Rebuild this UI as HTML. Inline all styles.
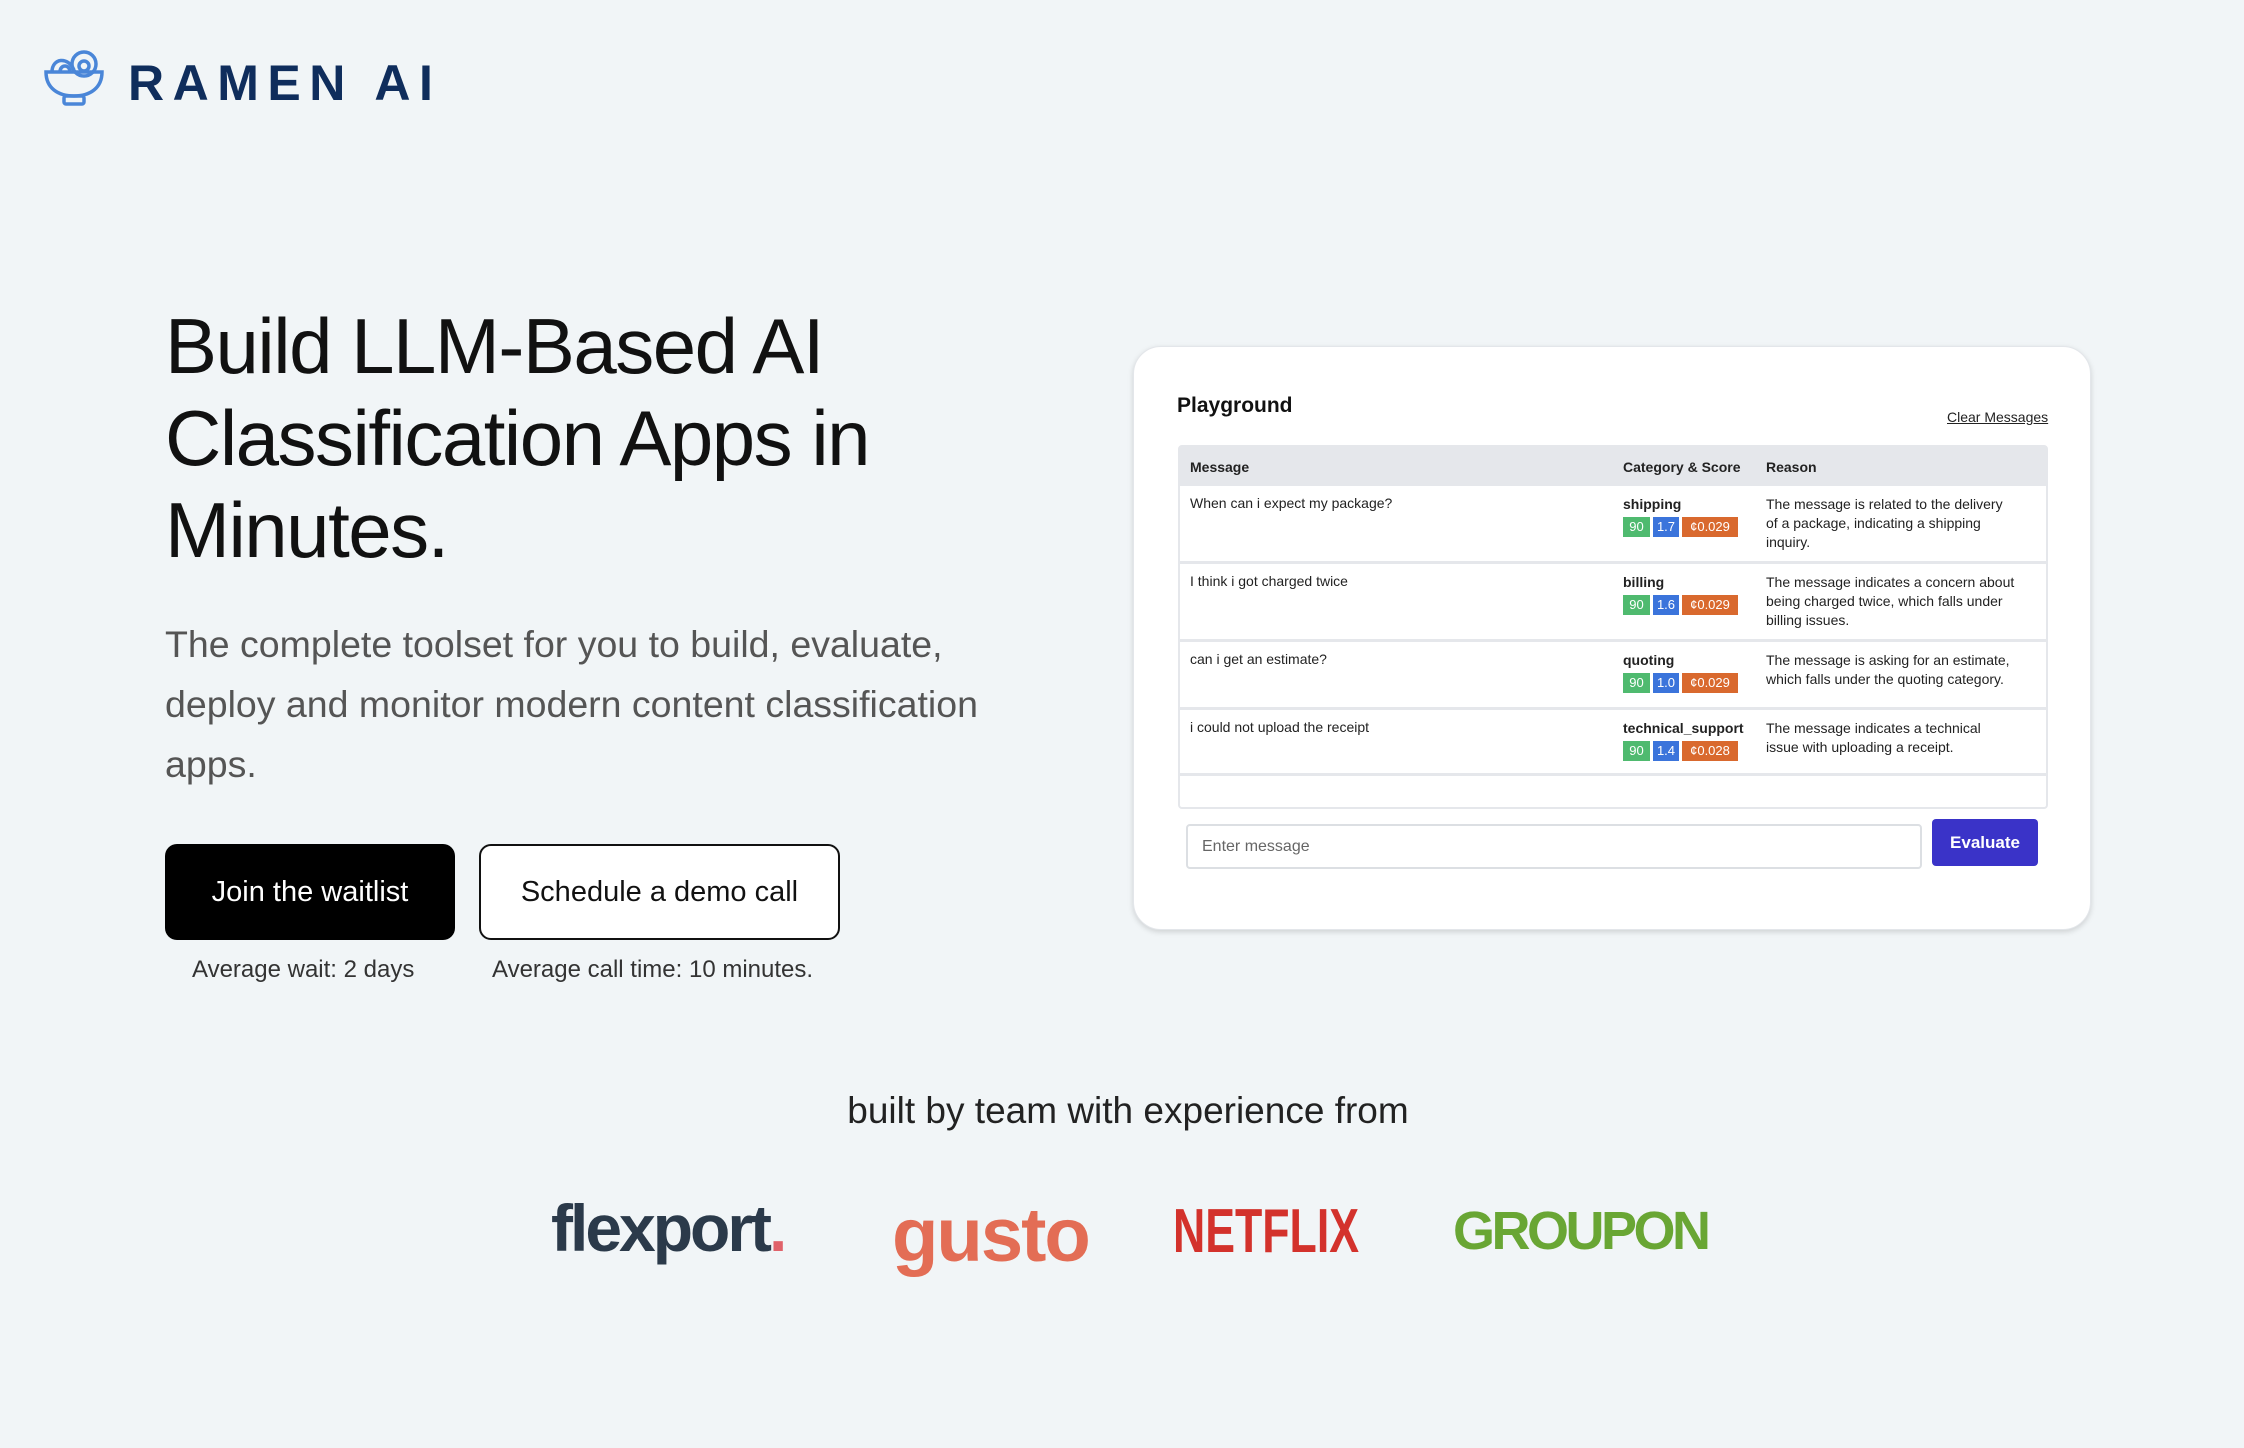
<!DOCTYPE html>
<html><head><meta charset="utf-8"><style>
*{margin:0;padding:0;box-sizing:border-box}
body{width:2244px;height:1448px;background:#f1f5f7;font-family:"Liberation Sans",sans-serif;position:relative;overflow:hidden;color:#111}
.a{position:absolute;white-space:nowrap}
.h1{left:165px;top:300px;font-size:78px;line-height:92px;color:#111;letter-spacing:-1.5px}
.sub{left:165px;top:614px;font-size:37.5px;line-height:60px;color:#555}
.btn{position:absolute;top:844px;height:96px;border-radius:12px;font-size:29px;display:flex;align-items:center;justify-content:center}
.cap{top:956px;font-size:24px;color:#333}
.card{position:absolute;left:1133px;top:346px;width:958px;height:584px;background:#fff;border-radius:28px;box-shadow:0 2px 6px rgba(0,0,0,.15);border:1px solid #e3e6ea}
.tbl{position:absolute;left:1178px;top:445px;width:870px;height:364px;border:2px solid #e5e7eb;border-radius:4px;background:#fff}
.row{position:absolute;left:0;width:866px;border-bottom:3px solid #e5e7eb;font-size:14px;color:#222}
.row div{position:absolute}
.cat b{display:block;line-height:18px;margin-bottom:4px}
.b{display:inline-block;height:20px;line-height:20px;color:#fff;font-size:13px;text-align:center;margin-right:3px}
.g{background:#4fba6f;width:27px}.bl{background:#3b74db;width:26px}.o{background:#d9692e;width:56px}
</style></head><body>
<svg class="a" style="left:42px;top:48px" width="64" height="60" viewBox="0 0 64 60" fill="none" stroke="#4a86d8" stroke-width="3.5">
<path d="M4 24 H60 C60 40 48 48 32 48 C16 48 4 40 4 24Z"/><rect x="22" y="48" width="20" height="8" rx="2"/>
<path d="M10 24 C10 10 26 8 32 22"/><path d="M18 24 C18 16 28 16 28 24"/><circle cx="42" cy="16" r="12"/><circle cx="42" cy="18" r="5"/></svg>
<div class="a" style="left:128px;top:54px;font-size:50px;font-weight:bold;color:#0f2d5c;letter-spacing:8.5px">RAMEN AI</div>
<div class="a h1">Build LLM-Based AI<br>Classification Apps in<br>Minutes.</div>
<div class="a sub">The complete toolset for you to build, evaluate,<br>deploy and monitor modern content classification<br>apps.</div>
<div class="btn" style="left:165px;width:290px;background:#000;color:#fff">Join the waitlist</div>
<div class="btn" style="left:479px;width:361px;background:#fff;border:2px solid #111;color:#111">Schedule a demo call</div>
<div class="a cap" style="left:192px">Average wait: 2 days</div>
<div class="a cap" style="left:492px">Average call time: 10 minutes.</div>
<div class="a" style="left:0;width:2256px;text-align:center;top:1090px;font-size:37px;color:#222">built by team with experience from</div>
<div class="a" style="left:551px;top:1190px;font-size:66px;font-weight:bold;color:#2b3a4a;letter-spacing:-3px">flexport<span style="color:#e0626a">.</span></div>
<div class="a" style="left:892px;top:1192px;font-size:76px;font-weight:bold;color:#e36d55;letter-spacing:-2px">gusto</div>
<div class="a" style="left:1173px;top:1196px;font-size:62px;font-weight:bold;color:#d3322c;transform:scaleX(.72);transform-origin:left">NETFLIX</div>
<div class="a" style="left:1453px;top:1200px;font-size:54px;font-weight:bold;color:#69a634;letter-spacing:-3.5px">GROUPON</div>
<div class="card"></div>
<div class="a" style="left:1177px;top:394px;font-size:21px;font-weight:bold">Playground</div>
<div class="a" style="left:1947px;top:409px;font-size:14px;text-decoration:underline;color:#222">Clear Messages</div>
<div class="tbl">
<div class="row" style="top:0;height:39px;background:#e5e7eb;font-weight:bold;font-size:14px"><div style="left:10px;top:12px">Message</div><div style="left:443px;top:12px">Category &amp; Score</div><div style="left:586px;top:12px">Reason</div></div>
<div class="row" style="top:39px;height:78px"><div style="left:10px;top:9px">When can i expect my package?</div><div class="cat" style="left:443px;top:9px"><b>shipping</b><span class="b g">90</span><span class="b bl">1.7</span><span class="b o">¢0.029</span></div><div style="left:586px;top:9px;line-height:19px">The message is related to the delivery<br>of a package, indicating a shipping<br>inquiry.</div></div>
<div class="row" style="top:117px;height:78px"><div style="left:10px;top:9px">I think i got charged twice</div><div class="cat" style="left:443px;top:9px"><b>billing</b><span class="b g">90</span><span class="b bl">1.6</span><span class="b o">¢0.029</span></div><div style="left:586px;top:9px;line-height:19px">The message indicates a concern about<br>being charged twice, which falls under<br>billing issues.</div></div>
<div class="row" style="top:195px;height:68px"><div style="left:10px;top:9px">can i get an estimate?</div><div class="cat" style="left:443px;top:9px"><b>quoting</b><span class="b g">90</span><span class="b bl">1.0</span><span class="b o">¢0.029</span></div><div style="left:586px;top:9px;line-height:19px">The message is asking for an estimate,<br>which falls under the quoting category.</div></div>
<div class="row" style="top:263px;height:66px"><div style="left:10px;top:9px">i could not upload the receipt</div><div class="cat" style="left:443px;top:9px"><b>technical_support</b><span class="b g">90</span><span class="b bl">1.4</span><span class="b o">¢0.028</span></div><div style="left:586px;top:9px;line-height:19px">The message indicates a technical<br>issue with uploading a receipt.</div></div>
</div>
<div class="a" style="left:1186px;top:824px;width:736px;height:45px;border:2px solid #dcdfe3;border-radius:4px;background:#fff;font-size:16px;color:#666;padding:12px 14px">Enter message</div>
<div class="a" style="left:1932px;top:819px;width:106px;height:47px;background:#3a33c8;border-radius:4px;color:#fff;font-size:17px;font-weight:bold;text-align:center;line-height:47px">Evaluate</div>
</body></html>
